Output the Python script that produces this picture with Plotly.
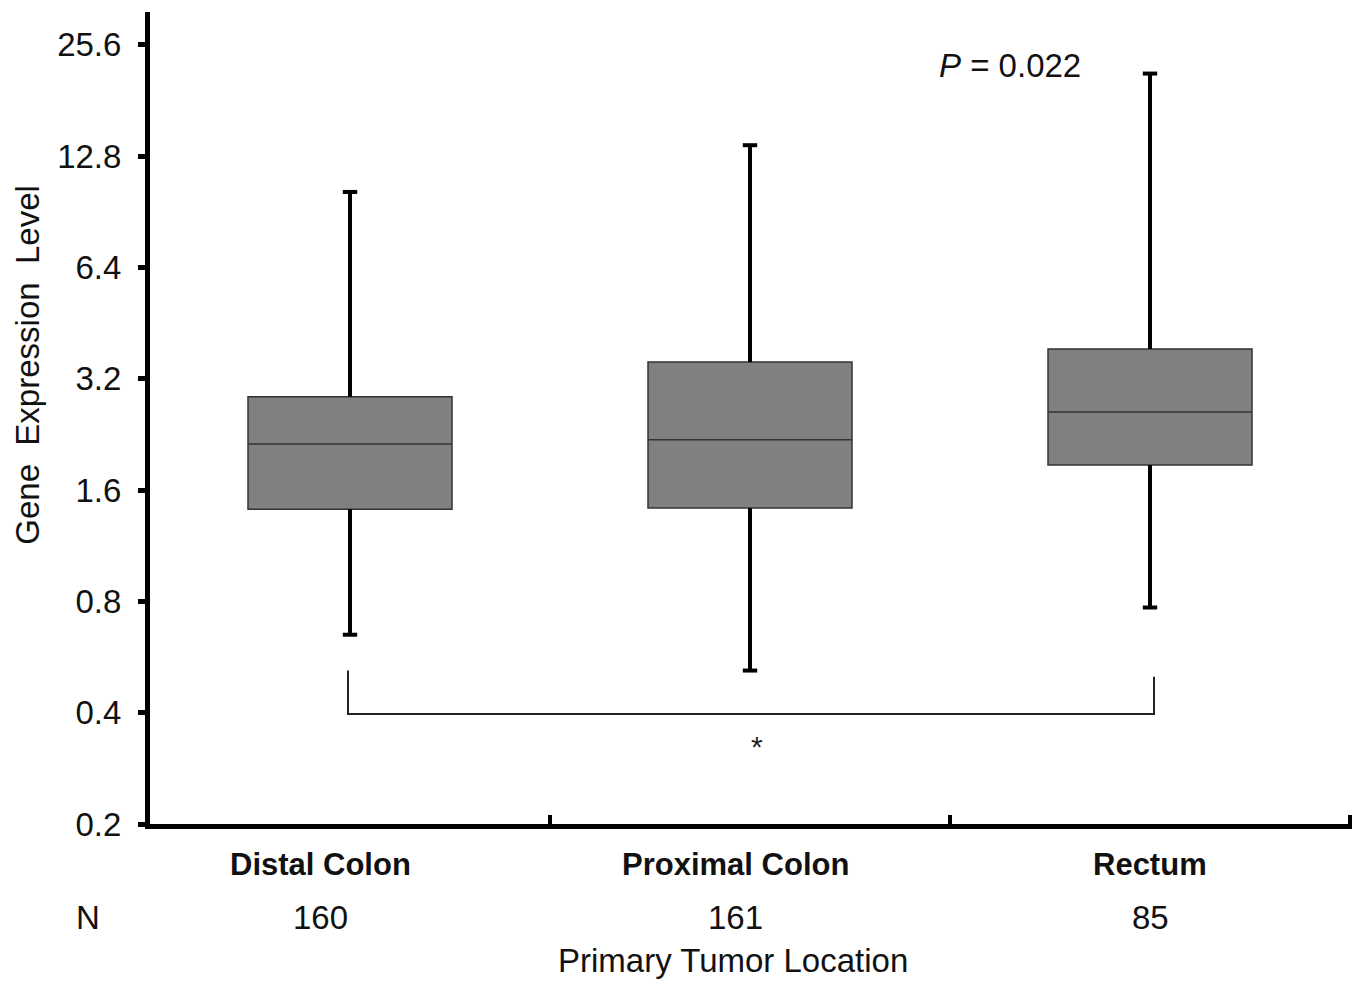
import plotly.graph_objects as go
import math

categories = ["Distal Colon", "Proximal Colon", "Rectum"]
n_counts = ["160", "161", "85"]
positions = [0, 1, 2]
q1 = [1.42, 1.43, 1.87]
median = [2.13, 2.19, 2.60]
q3 = [2.86, 3.55, 3.85]
lower = [0.65, 0.52, 0.77]
upper = [10.24, 13.7, 21.4]
y_ticks = [0.2, 0.4, 0.8, 1.6, 3.2, 6.4, 12.8, 25.6]
y_ticklabels = ["0.2", "0.4", "0.8", "1.6", "3.2", "6.4", "12.8", "25.6"]
bracket_x = [-0.005, 2.01]
bracket_y = [0.52, 0.397, 0.50]
p_text = "<i>P</i> = 0.022"

FONT = "Liberation Sans, Arial, sans-serif"

fig = go.Figure()
fig.add_trace(go.Box(
    x=positions, q1=q1, median=median, q3=q3,
    lowerfence=lower, upperfence=upper,
    width=0.51, whiskerwidth=0,
    fillcolor="#808080", line=dict(color="#333333", width=1.5),
    boxpoints=False, showlegend=False, hoverinfo="skip",
))

# thick whiskers and caps
wx, wy = [], []
cap = 0.018
for i, p in enumerate(positions):
    wx += [p, p, None, p, p, None]
    wy += [upper[i], q3[i], None, q1[i], lower[i], None]
    wx += [p - cap, p + cap, None, p - cap, p + cap, None]
    wy += [upper[i], upper[i], None, lower[i], lower[i], None]
fig.add_trace(go.Scatter(x=wx, y=wy, mode="lines",
                         line=dict(color="black", width=4),
                         showlegend=False, hoverinfo="skip"))

# significance bracket
fig.add_trace(go.Scatter(
    x=[bracket_x[0], bracket_x[0], bracket_x[1], bracket_x[1]],
    y=[bracket_y[0], bracket_y[1], bracket_y[1], bracket_y[2]],
    mode="lines", line=dict(color="#222222", width=2),
    showlegend=False, hoverinfo="skip"))

ann = []
ann.append(dict(x=sum(bracket_x) / 2, xshift=6, y=math.log10(bracket_y[1]), yshift=-33,
                text="*", showarrow=False, font=dict(size=30, color="#222")))
ann.append(dict(x=1.65, y=math.log10(21.0), yshift=11, text=p_text, showarrow=False,
                font=dict(size=33, color="#111")))
label_x = [-0.075, 0.9625, 2.0]
for i, c in enumerate(categories):
    ann.append(dict(x=label_x[i], y=0, yref="paper", yanchor="middle", yshift=-40,
                    text="<b>" + c + "</b>", showarrow=False,
                    font=dict(size=31, color="#111")))
    ann.append(dict(x=label_x[i], y=0, yref="paper", yanchor="middle", yshift=-93,
                    text=n_counts[i], showarrow=False,
                    font=dict(size=33, color="#111")))
ann.append(dict(x=-0.5, y=0, yref="paper", xshift=-62, yanchor="middle", yshift=-93,
                text="N", showarrow=False, font=dict(size=33, color="#111")))
ann.append(dict(x=0.9575, y=0, yref="paper", yanchor="middle", yshift=-136,
                text="Primary Tumor Location", showarrow=False,
                font=dict(size=33, color="#111")))
ann.append(dict(x=0, xref="paper", xshift=-143, y=0.565, yref="paper",
                text="Gene  Expression  Level", textangle=-90, showarrow=False,
                font=dict(size=33, color="#111")))

fig.update_layout(
    width=1366, height=982,
    margin=dict(l=150, r=14, t=12, b=158),
    paper_bgcolor="white", plot_bgcolor="white",
    font=dict(family=FONT, color="#111"),
    annotations=ann,
    xaxis=dict(range=[-0.5, 2.505], showgrid=False, zeroline=False,
               showline=True, linecolor="black", linewidth=5,
               tickvals=[0.5, 1.5, 2.5], ticks="inside", ticklen=9,
               tickwidth=4, tickcolor="black", showticklabels=False),
    yaxis=dict(type="log", range=[math.log10(0.2), math.log10(31.4)],
               showgrid=False, zeroline=False, showline=True,
               linecolor="black", linewidth=5,
               tickvals=y_ticks, ticktext=y_ticklabels,
               ticks="outside", ticklen=7, tickwidth=5, tickcolor="black",
               ticklabelstandoff=10,
               tickfont=dict(size=33, color="#111")),
)

fig.write_html("out.html")
